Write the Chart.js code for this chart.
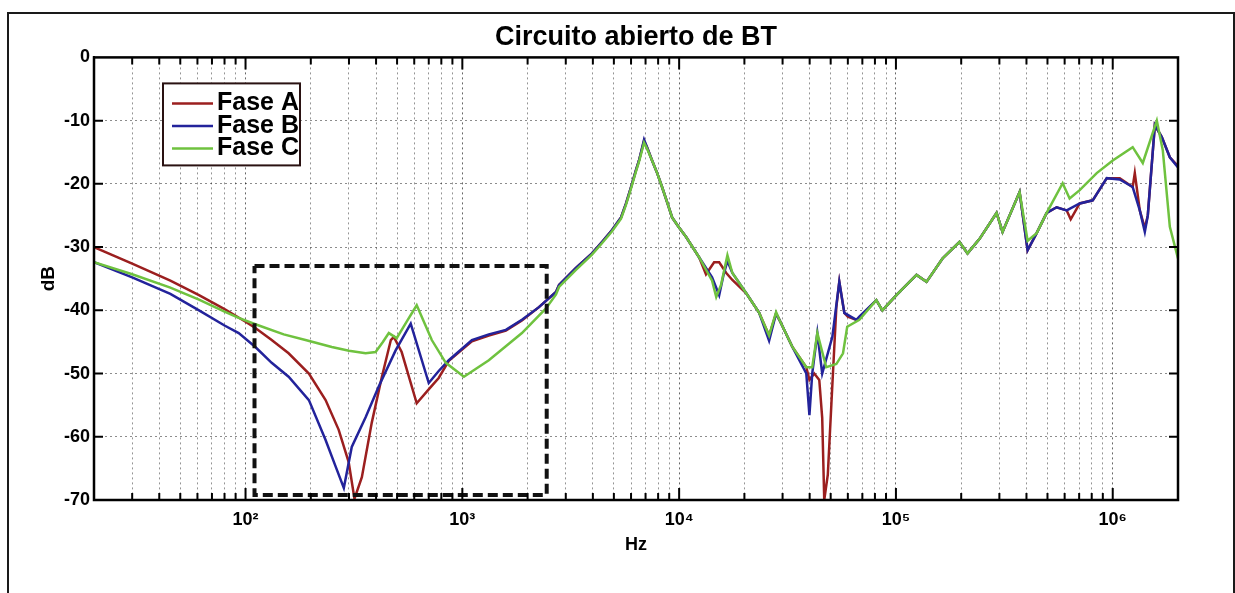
<!DOCTYPE html>
<html><head><meta charset="utf-8">
<script src="https://cdn.jsdelivr.net/npm/chart.js@4.4.0/dist/chart.umd.min.js"></script>
<style>
html,body{margin:0;padding:0;background:#fff;}
#wrap{position:relative;width:1235px;height:593px;overflow:hidden;}
#frame{position:absolute;left:7px;top:12px;width:1224px;height:600px;border:2px solid #1a1a1a;pointer-events:none;}
canvas{position:absolute;left:0;top:0;}
</style></head><body>
<div id="wrap"><canvas id="c" width="1235" height="593"></canvas><div id="frame"></div></div>
<script>
const chartTitle = 'Circuito abierto de BT';
const xTitle = 'Hz';
const yTitle = 'dB';
const seriesNames = ['Fase A', 'Fase B', 'Fase C'];
const seriesColors = ['#9b1f1f', '#23239b', '#6fc23f'];
const xTickValues = [100, 1000, 10000, 100000, 1000000];
const xTickLabels = ['10²', '10³', '10⁴', '10⁵', '10⁶'];
const yTickValues = [0, -10, -20, -30, -40, -50, -60, -70];
const xRange = [20, 2000000];
const yRange = [-70, 0];
const zoomBoxHz = [110, 2450];
const zoomBoxDb = [-33, -69.2];

// [frequency Hz, dB]
const faseA = [
[20,-30.0],[30,-32.6],[45,-35.3],[61,-37.6],[80,-39.8],[100,-41.8],[111,-42.8],[132,-44.7],[158,-46.8],[196,-50.0],[234,-54.2],[269,-58.9],[299,-64.0],[318,-69.8],[344,-66.4],[382,-57.8],[425,-50.6],[468,-44.7],[483,-44.2],[525,-46.6],[616,-54.7],[716,-52.1],[778,-50.7],[866,-48.0],[1107,-44.9],[1325,-44.0],[1588,-43.2],[1883,-41.6],[2256,-39.5],[2704,-37.1],[2793,-36.0],[3342,-33.3],[3963,-31.0],[4406,-29.2],[4905,-27.3],[5395,-25.3],[5690,-23.1],[6000,-20.5],[6328,-17.8],[6530,-16.3],[6889,-13.2],[7110,-14.2],[7502,-16.3],[7920,-18.3],[8341,-20.5],[8800,-22.9],[9280,-25.3],[9990,-26.9],[10770,-28.4],[12360,-31.6],[13300,-34.3],[14500,-32.4],[15300,-32.4],[16500,-34.1],[17600,-35.2],[20400,-37.3],[23400,-40.4],[26000,-44.0],[28000,-40.5],[29000,-41.5],[33300,-45.8],[38600,-49.0],[39900,-51.0],[42000,-50.0],[44300,-51.0],[45700,-57.0],[46700,-70.0],[48500,-66.0],[50400,-54.7],[53100,-39.5],[54800,-35.5],[57800,-40.4],[60000,-41.0],[65700,-41.5],[67800,-41.2],[81200,-38.4],[86600,-40.0],[100500,-37.6],[124400,-34.4],[138400,-35.5],[164000,-31.8],[196400,-29.2],[213900,-31.0],[243100,-28.7],[291200,-24.6],[310300,-27.6],[371800,-21.3],[404900,-30.5],[445700,-27.8],[495700,-24.6],[551100,-23.7],[613200,-24.2],[640000,-25.6],[704100,-23.1],[808400,-22.6],[938500,-19.1],[1077000,-19.1],[1236000,-20.5],[1264000,-18.3],[1333000,-24.2],[1406000,-27.0],[1451000,-25.0],[1564000,-10.7],[1684000,-12.6],[1834000,-15.8],[2000000,-17.2]
];
const faseB = [
[20,-32.4],[30,-34.8],[45,-37.4],[61,-40.0],[80,-42.4],[93,-43.6],[111,-45.8],[132,-48.3],[158,-50.5],[196,-54.2],[234,-60.5],[261,-64.8],[284,-68.1],[309,-61.6],[358,-56.9],[411,-52.1],[493,-46.3],[578,-42.1],[700,-51.5],[778,-49.6],[866,-47.9],[1107,-44.7],[1325,-43.8],[1588,-43.1],[1883,-41.5],[2256,-39.5],[2704,-37.1],[2793,-36.0],[3342,-33.3],[3963,-31.0],[4406,-29.2],[4905,-27.3],[5395,-25.3],[5690,-23.1],[6000,-20.5],[6328,-17.8],[6530,-16.3],[6889,-13.0],[7110,-14.2],[7502,-16.3],[7920,-18.3],[8341,-20.5],[8800,-22.9],[9280,-25.3],[9990,-26.9],[10770,-28.4],[12360,-31.6],[14190,-34.8],[15300,-37.6],[16000,-34.5],[16700,-32.2],[17600,-34.1],[20400,-37.3],[23400,-40.4],[26000,-44.8],[28000,-40.5],[29000,-41.5],[33300,-45.8],[38600,-50.0],[39900,-56.6],[41100,-50.0],[43400,-43.6],[45700,-50.0],[50900,-44.2],[54800,-35.5],[57800,-40.4],[65700,-41.5],[67800,-41.0],[81200,-38.4],[86600,-40.0],[100500,-37.6],[124400,-34.4],[138400,-35.5],[164000,-31.8],[196400,-29.2],[213900,-31.0],[243100,-28.7],[291200,-24.6],[310300,-27.6],[371800,-21.3],[404900,-30.5],[445700,-27.8],[495700,-24.6],[551100,-23.7],[613200,-24.2],[704100,-23.1],[808400,-22.6],[938500,-19.1],[1077000,-19.3],[1236000,-20.5],[1333000,-24.2],[1406000,-27.6],[1451000,-25.0],[1564000,-10.7],[1684000,-12.6],[1834000,-15.8],[2000000,-17.4]
];
const faseC = [
[20,-32.4],[30,-34.3],[45,-36.4],[61,-38.3],[80,-40.2],[93,-41.2],[111,-42.2],[150,-43.8],[189,-44.7],[250,-45.8],[300,-46.4],[358,-46.8],[398,-46.6],[430,-45.0],[458,-43.6],[498,-44.4],[560,-41.5],[616,-39.2],[723,-44.7],[839,-48.3],[1017,-50.5],[1325,-47.9],[1883,-43.6],[2430,-39.7],[2704,-37.5],[2793,-36.3],[3342,-33.6],[3963,-31.2],[4406,-29.4],[4905,-27.5],[5395,-25.5],[5690,-23.3],[6000,-20.7],[6328,-18.0],[6530,-16.5],[6889,-13.5],[7110,-14.4],[7502,-16.3],[7920,-18.3],[8341,-20.5],[8800,-22.9],[9280,-25.3],[9990,-26.9],[10770,-28.4],[12360,-31.6],[14190,-35.3],[14830,-37.9],[15600,-36.0],[16700,-31.3],[17600,-34.1],[20400,-37.3],[23400,-40.4],[26000,-44.0],[28000,-40.3],[29000,-41.5],[33300,-45.8],[38600,-49.0],[41100,-49.0],[43400,-43.6],[47700,-49.0],[53100,-48.5],[57000,-46.8],[59600,-42.6],[67800,-41.5],[81200,-38.4],[86600,-40.0],[100500,-37.6],[124400,-34.4],[138400,-35.5],[164000,-31.8],[196400,-29.2],[213900,-31.0],[243100,-28.7],[291200,-24.6],[310300,-27.6],[371800,-21.3],[404900,-29.0],[445700,-27.8],[495700,-24.6],[587400,-19.9],[632700,-22.3],[704100,-21.0],[843600,-18.3],[1000000,-16.3],[1236000,-14.2],[1376000,-16.7],[1597000,-10.0],[1702000,-14.7],[1834000,-26.8],[2000000,-31.8]
];

const FONT = '"Liberation Sans", Arial, Helvetica, sans-serif';
const toXY = arr => arr.map(p => ({x: p[0], y: p[1]}));

// log grid positions (1..9 per decade) inside the axis range
const gridValues = [];
for (let e = 1; e <= 6; e++) {
  for (let m = 1; m <= 9; m++) {
    const v = m * Math.pow(10, e);
    if (v >= xRange[0] && v <= xRange[1]) gridValues.push(v);
  }
}

const zoomBox = [
  {x: zoomBoxHz[0], y: zoomBoxDb[0]}, {x: zoomBoxHz[1], y: zoomBoxDb[0]},
  {x: zoomBoxHz[1], y: zoomBoxDb[1]}, {x: zoomBoxHz[0], y: zoomBoxDb[1]},
  {x: zoomBoxHz[0], y: zoomBoxDb[0]}
];

const series = [faseA, faseB, faseC];
const datasets = series.map((s, i) => ({
  label: seriesNames[i],
  data: toXY(s),
  borderColor: seriesColors[i],
  backgroundColor: seriesColors[i],
  borderWidth: 2.5,
  pointRadius: 0,
  tension: 0,
  fill: false,
  order: 3 - i
}));
datasets.push({
  label: 'zoom',
  data: zoomBox,
  borderColor: '#111',
  borderWidth: 4,
  borderDash: [10, 5],
  pointRadius: 0,
  tension: 0,
  fill: false,
  order: 0
});

const framePlugin = {
  id: 'matlabFrame',
  afterDatasetsDraw(chart) {
    const {ctx, chartArea: a, scales} = chart;
    ctx.save();
    ctx.strokeStyle = '#000';
    ctx.lineWidth = 2;
    ctx.beginPath();
    scales.x.ticks.forEach(t => {
      const px = scales.x.getPixelForValue(t.value);
      if (px <= a.left + 1 || px >= a.right - 1) return;
      const len = xTickValues.includes(t.value) ? 12 : 7;
      ctx.moveTo(px, a.bottom); ctx.lineTo(px, a.bottom - len);
      ctx.moveTo(px, a.top); ctx.lineTo(px, a.top + len);
    });
    scales.y.ticks.forEach(t => {
      const py = scales.y.getPixelForValue(t.value);
      if (py <= a.top + 1 || py >= a.bottom - 1) return;
      ctx.moveTo(a.left, py); ctx.lineTo(a.left + 9, py);
      ctx.moveTo(a.right, py); ctx.lineTo(a.right - 9, py);
    });
    ctx.stroke();
    ctx.lineWidth = 2.5;
    ctx.strokeRect(a.left, a.top, a.right - a.left, a.bottom - a.top);
    ctx.restore();
  }
};

const legendPlugin = {
  id: 'boxLegend',
  afterDraw(chart) {
    const {ctx, chartArea: a} = chart;
    const x0 = a.left + 69, y0 = a.top + 26, w = 137, h = 82;
    ctx.save();
    ctx.fillStyle = '#fff';
    ctx.fillRect(x0, y0, w, h);
    ctx.lineWidth = 2;
    ctx.strokeStyle = '#2a1212';
    ctx.strokeRect(x0, y0, w, h);
    ctx.font = 'bold 25px ' + FONT;
    ctx.textBaseline = 'middle';
    ctx.textAlign = 'left';
    for (let i = 0; i < 3; i++) {
      const ds = chart.data.datasets[i];
      const y = y0 + 20 + i * 22.5;
      ctx.strokeStyle = ds.borderColor;
      ctx.lineWidth = 2.5;
      ctx.beginPath();
      ctx.moveTo(x0 + 9, y); ctx.lineTo(x0 + 50, y);
      ctx.stroke();
      ctx.fillStyle = '#000';
      ctx.fillText(ds.label, x0 + 54, y);
    }
    ctx.restore();
  }
};

new Chart(document.getElementById('c'), {
  type: 'line',
  data: {datasets},
  options: {
    responsive: false,
    animation: false,
    events: [],
    layout: {padding: {top: 0, left: 0, right: 57, bottom: 0}},
    plugins: {
      legend: {display: false},
      tooltip: {enabled: false},
      title: {
        display: true,
        text: chartTitle,
        fullSize: false,
        color: '#000',
        font: {family: FONT, size: 27, weight: 'bold', lineHeight: 1.2},
        padding: {top: 21, bottom: 4}
      }
    },
    scales: {
      x: {
        type: 'logarithmic',
        min: xRange[0],
        max: xRange[1],
        afterBuildTicks: s => { s.ticks = gridValues.map(v => ({value: v, major: xTickValues.includes(v)})); },
        afterFit: s => { s.height = 93; },
        ticks: {
          autoSkip: false,
          maxRotation: 0,
          minRotation: 0,
          padding: 9,
          color: '#000',
          font: {family: FONT, size: 18, weight: 'bold'},
          callback: v => { const i = xTickValues.indexOf(v); return i >= 0 ? xTickLabels[i] : ''; }
        },
        grid: {
          drawTicks: false,
          lineWidth: 1,
          color: c => (c.tick && xTickValues.includes(c.tick.value)) ? 'rgba(0,0,0,0.6)' : 'rgba(0,0,0,0.42)'
        },
        border: {display: true, color: '#000', width: 2, dash: [2, 3]},
        title: {
          display: true,
          text: xTitle,
          color: '#000',
          font: {family: FONT, size: 18, weight: 'bold', lineHeight: 1.2},
          padding: {top: 0, bottom: 37}
        }
      },
      y: {
        type: 'linear',
        min: yRange[0],
        max: yRange[1],
        afterBuildTicks: s => { s.ticks = yTickValues.map(v => ({value: v})); },
        afterFit: s => { s.width = 94; },
        ticks: {
          padding: 4,
          color: '#000',
          font: {family: FONT, size: 18, weight: 'bold'}
        },
        grid: {
          drawTicks: false,
          lineWidth: 1,
          color: 'rgba(0,0,0,0.45)'
        },
        border: {display: true, color: '#000', width: 2, dash: [2, 3]},
        title: {
          display: true,
          text: yTitle,
          color: '#000',
          font: {family: FONT, size: 19, weight: 'bold', lineHeight: 1.2},
          padding: {top: 37, bottom: 0}
        }
      }
    }
  },
  plugins: [framePlugin, legendPlugin]
});
</script>
</body></html>
